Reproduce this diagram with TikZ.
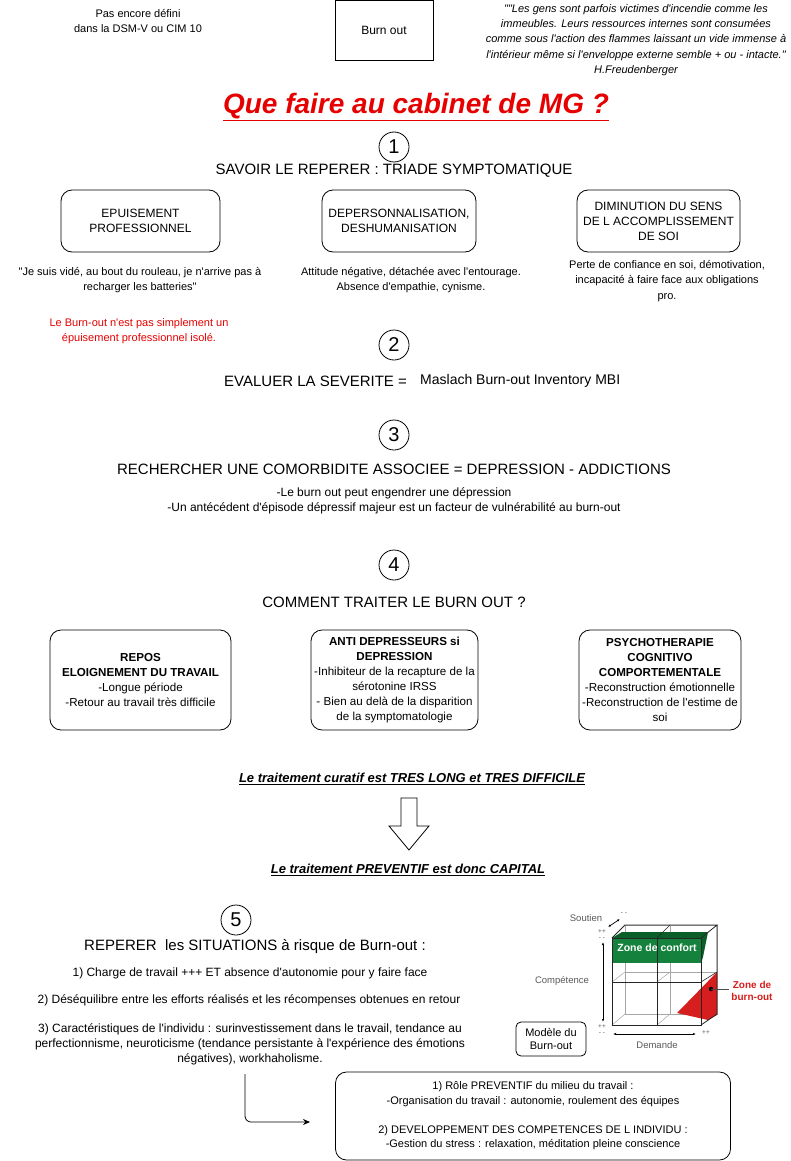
\documentclass[tikz,border=0pt]{standalone}
\usepackage{fontspec}
\setmainfont{Liberation Sans}[Ligatures=TeXOff]
\usetikzlibrary{arrows.meta}
\definecolor{mgred}{RGB}{230,0,0}
\definecolor{cgreen}{RGB}{20,130,60}
\definecolor{cdgreen}{RGB}{10,95,40}
\definecolor{cred}{RGB}{215,30,30}
\begin{document}
\begin{tikzpicture}[x=1pt,y=-1pt,
  txt/.style={align=center,inner sep=0pt,font=\fontsize{11}{15.5}\selectfont},
  txtb/.style={align=center,inner sep=0pt,font=\fontsize{12}{15}\selectfont},
  heading/.style={align=center,inner sep=0pt,font=\fontsize{15}{18}\selectfont},
  num/.style={circle,draw,line width=0.8pt,minimum size=30pt,inner sep=0pt,font=\fontsize{20}{20}\selectfont},
  rbox/.style={draw,line width=0.8pt,rounded corners=11pt,align=center,inner sep=0pt,font=\fontsize{12}{15}\selectfont},
  bigul/.style={align=center,inner sep=0pt,font=\fontsize{13}{16}\selectfont\bfseries\itshape},
  cubetxt/.style={inner sep=0pt,text=black!65,font=\fontsize{9.5}{11}\selectfont},
  pm/.style={inner sep=0pt,align=center,text=black!65,font=\fontsize{6.5}{6}\selectfont},
  dbl/.style={line width=0.7pt,{Latex[length=3pt]}-{Latex[length=3pt]}}]
\fill[white] (0,0) rectangle (790,1161);
\path[use as bounding box] (0,0) rectangle (790,1161);

% top row
\node[txt] (undef) at (138,21) {Pas encore défini\\dans la DSM-V ou CIM 10};
\node[draw,line width=0.8pt,minimum width=98pt,minimum height=60pt,inner sep=0pt,font=\fontsize{12}{15}\selectfont] (burn) at (384,30.5) {Burn out};
\node[txt,font=\fontsize{11}{15.2}\selectfont\itshape] (quote) at (636,40) {""Les gens sont parfois victimes d'incendie comme les\\immeubles. Leurs ressources internes sont consumées\\comme sous l'action des flammes laissant un vide immense à\\l'intérieur même si l'enveloppe externe semble + ou - intacte."\\H.Freudenberger};

% title
\node[inner sep=0pt,text=mgred,font=\fontsize{28}{32}\selectfont\bfseries\itshape] (title) at (416,107) {\underline{Que faire au cabinet de MG ?}};

% section 1
\node[num] (n1) at (394,147) {1};
\node[heading] (h1) at (394,171) {SAVOIR LE REPERER : TRIADE SYMPTOMATIQUE};
\node[rbox,minimum width=159pt,minimum height=62pt] (b1) at (140.5,221) {EPUISEMENT\\PROFESSIONNEL};
\node[rbox,minimum width=154pt,minimum height=62pt] (b2) at (399,221) {DEPERSONNALISATION,\\DESHUMANISATION};
\node[rbox,minimum width=163pt,minimum height=62pt] (b3) at (658.5,221) {DIMINUTION DU SENS\\DE L ACCOMPLISSEMENT\\DE SOI};
\node[txt] (d1) at (140,280) {"Je suis vidé, au bout du rouleau, je n'arrive pas à\\recharger les batteries"};
\node[txt] (d2) at (411,280) {Attitude négative, détachée avec l'entourage.\\Absence d'empathie, cynisme.};
\node[txt] (d3) at (667,281) {Perte de confiance en soi, démotivation,\\incapacité à faire face aux obligations\\pro.};
\node[txt,text=mgred] (red1) at (139,331) {Le Burn-out n'est pas simplement un\\épuisement professionnel isolé.};

% section 2
\node[num] (n2) at (394,345) {2};
\node[heading,anchor=west] (h2) at (224,381) {EVALUER LA SEVERITE =};
\node[inner sep=0pt,anchor=west,font=\fontsize{14}{16}\selectfont] (mbi) at (420,381) {Maslach Burn-out Inventory MBI};

% section 3
\node[num] (n3) at (394,435) {3};
\node[heading] (h3) at (394,469) {RECHERCHER UNE COMORBIDITE ASSOCIEE = DEPRESSION - ADDICTIONS};
\node[txtb] (d4) at (394,500.5) {-Le burn out peut engendrer une dépression\\-Un antécédent d'épisode dépressif majeur est un facteur de vulnérabilité au burn-out};

% section 4
\node[num] (n4) at (394,565) {4};
\node[heading] (h4) at (394,602) {COMMENT TRAITER LE BURN OUT ?};
\node[rbox,minimum width=181pt,minimum height=100pt,font=\fontsize{11.6}{15}\selectfont] (t1) at (140.5,680) {\textbf{REPOS}\\\textbf{ELOIGNEMENT DU TRAVAIL}\\-Longue période\\-Retour au travail très difficile};
\node[rbox,minimum width=167pt,minimum height=100pt,font=\fontsize{11.6}{15}\selectfont] (t2) at (394.5,680) {\textbf{ANTI DEPRESSEURS si}\\\textbf{DEPRESSION}\\-Inhibiteur de la recapture de la\\sérotonine IRSS\\- Bien au delà de la disparition\\de la symptomatologie};
\node[rbox,minimum width=162pt,minimum height=100pt,font=\fontsize{11.6}{15}\selectfont] (t3) at (660,680) {\textbf{PSYCHOTHERAPIE}\\\textbf{COGNITIVO}\\\textbf{COMPORTEMENTALE}\\-Reconstruction émotionnelle\\-Reconstruction de l'estime de\\soi};

\node[bigul] (cur) at (412,779) {\underline{Le traitement curatif est TRES LONG et TRES DIFFICILE}};
\draw[line width=0.8pt,fill=white] (401,798) -- (417,798) -- (417,826) -- (429,826) -- (409,850) -- (389,826) -- (401,826) -- cycle;
\node[bigul] (prev) at (408,870) {\underline{Le traitement PREVENTIF est donc CAPITAL}};

% section 5
\node[num] (n5) at (236,920) {5};
\node[heading] (h5) at (255,947) {REPERER\ \ les SITUATIONS à risque de Burn-out :};
\node[txtb] (r1) at (250,973) {1) Charge de travail +++ ET absence d'autonomie pour y faire face};
\node[txtb] (r2) at (249,1000) {2) Déséquilibre entre les efforts réalisés et les récompenses obtenues en retour};
\node[txtb] (r3) at (250,1044) {3) Caractéristiques de l'individu : surinvestissement dans le travail, tendance au\\perfectionnisme, neuroticisme (tendance persistante à l'expérience des émotions\\négatives), workhaholisme.};

\node[rbox,minimum width=395pt,minimum height=88pt,font=\fontsize{11}{14.5}\selectfont] (prevbox) at (533,1116) {1) Rôle PREVENTIF du milieu du travail :\\-Organisation du travail : autonomie, roulement des équipes\\[14.5pt]2) DEVELOPPEMENT DES COMPETENCES DE L INDIVIDU :\\-Gestion du stress : relaxation, méditation pleine conscience};
\coordinate (astart) at (245,1074);
\coordinate (aend) at (310,1122);
\draw[line width=0.8pt,rounded corners=6pt,-{Stealth[length=7pt,width=6pt]}] (astart) |- (aend);

% burn-out model picture
\begin{scope}
  % back face and depth lines (light)
  \draw[black!35,line width=0.5pt] (625,925) rectangle (717,1014);
  \draw[black!35,line width=0.5pt] (670,925) -- (670,1014) (625,972) -- (717,972);
  \draw[black!35,line width=0.5pt] (612,1025) -- (625,1014) (657,1025) -- (670,1014) (612,982) -- (625,972) (657,982) -- (670,972);
  % green zone
  \fill[cdgreen] (612,938) -- (622,932) -- (708,932) -- (701,938) -- cycle;
  \fill[cgreen] (612,938) rectangle (701,963);
  \fill[cdgreen] (701,938) -- (708,932) -- (703,957) -- (701,963) -- cycle;
  \node[inner sep=0pt,text=white,font=\fontsize{10.5}{12}\selectfont\bfseries] (conf) at (657,948) {Zone de confort};
  % red zone
  \fill[cred] (677,1013) -- (717,972) -- (717,1015) -- (708,1020) -- cycle;
  % front face and outer edges
  \draw[black!85,line width=0.8pt] (612,938) rectangle (701,1025);
  \draw[black!85,line width=0.8pt] (657,938) -- (657,1025) (612,982) -- (701,982);
  \draw[black!85,line width=0.8pt] (612,938) -- (625,925) -- (717,925) -- (701,938) (717,925) -- (717,1014) -- (701,1025);
  \draw[black!85,line width=0.6pt] (657,938) -- (670,925) (701,982) -- (717,972);
  % labels
  \node[cubetxt] (sout) at (586,918) {Soutien};
  \coordinate (sa) at (608,927);
  \coordinate (sb) at (620,919);
  \draw[dbl] (sa) -- (sb);
  \node[pm] (s1) at (624,913) {- -};
  \node[pm] (s23) at (602,934.5) {++\\- -};
  \node[cubetxt] (comp) at (562,981) {Compétence};
  \coordinate (ca) at (603,942);
  \coordinate (cb) at (603,1022);
  \draw[dbl] (ca) -- (cb);
  \node[pm] (c12) at (602,1030) {++\\- -};
  \coordinate (da) at (613,1034);
  \coordinate (db) at (696,1034);
  \draw[dbl] (da) -- (db);
  \node[pm] (d5) at (706,1033) {++};
  \node[cubetxt] (dem) at (657,1045) {Demande};
  \coordinate (rdot) at (711,989);
  \coordinate (rline) at (729,989);
  \fill[black] (rdot) circle (2.2pt);
  \draw[black!70,line width=0.8pt] (rdot) -- (rline);
  \node[inner sep=0pt,text=cred,align=center,font=\fontsize{10}{12}\selectfont\bfseries] (zb) at (752,991) {Zone de\\burn-out};
\end{scope}
\node[draw,line width=0.8pt,rounded corners=5pt,minimum width=70pt,minimum height=34pt,align=center,inner sep=0pt,font=\fontsize{11}{13}\selectfont] (model) at (551,1039) {Modèle du\\Burn-out};
\end{tikzpicture}
\end{document}
